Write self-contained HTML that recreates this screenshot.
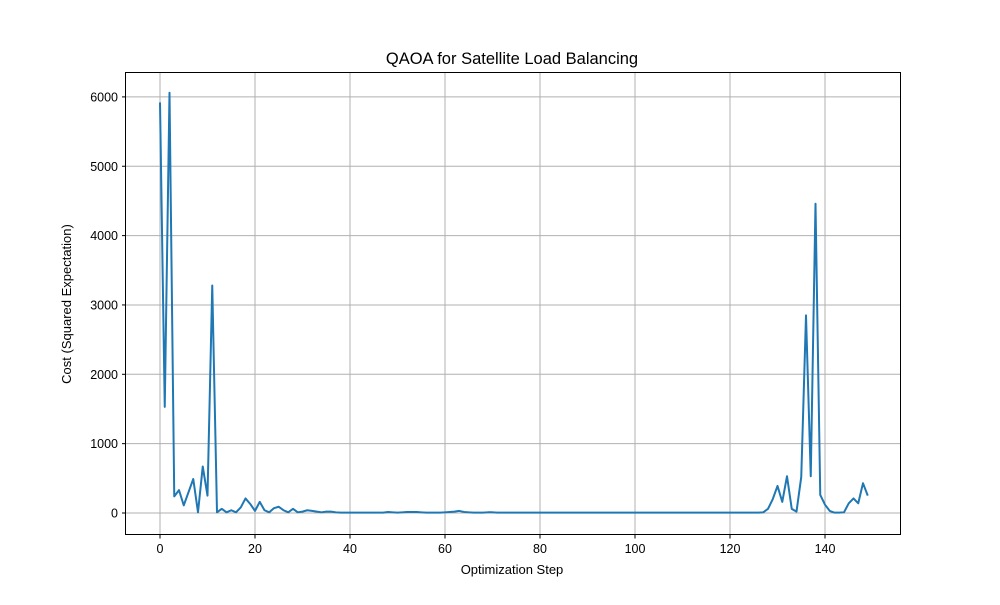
<!DOCTYPE html>
<html><head><meta charset="utf-8"><style>
body{margin:0;background:#fff;}
svg text{font-family:"Liberation Sans","DejaVu Sans",sans-serif;fill:#000;}
</style></head><body>
<svg id="chart" width="1000" height="600" xmlns="http://www.w3.org/2000/svg">
<rect width="1000" height="600" fill="#fff"/>
<g id="grid"></g>
<g id="series"></g>
<rect x="125.5" y="72.5" width="775" height="462" fill="none" stroke="#000" stroke-width="1"/>
<g id="ticks"></g>
<text x="512" y="64" font-size="16.5" text-anchor="middle">QAOA for Satellite Load Balancing</text>
<text x="512" y="574" font-size="13" text-anchor="middle">Optimization Step</text>
<text x="71" y="304" font-size="13" text-anchor="middle" transform="rotate(-90 71 304)">Cost (Squared Expectation)</text>
</svg>
<script>
const xTicks=[0,20,40,60,80,100,120,140];
const yTicks=[0,1000,2000,3000,4000,5000,6000];
const costValues=[5920,1530,6060,240,330,110,300,490,10,670,250,3280,10,60,10,40,10,80,210,130,30,160,40,10,70,90,40,10,60,10,20,40,30,20,10,20,20,10,5,5,5,5,5,5,5,5,5,5,15,10,5,10,15,15,15,10,5,5,5,5,10,15,20,30,15,10,5,5,5,10,10,5,5,5,5,5,5,5,5,5,5,5,5,5,5,5,5,5,5,5,5,5,5,5,5,5,5,5,5,5,5,5,5,5,5,5,5,5,5,5,5,5,5,5,5,5,5,5,5,5,5,5,5,5,5,5,5,10,60,200,390,160,530,60,20,520,2850,530,4460,260,120,30,5,5,10,140,210,140,430,250];
const steps=costValues.map((v,i)=>i);
const X=v=>160+v*4.75;
const Y=v=>513-v*0.06935;
const ns="http://www.w3.org/2000/svg";
const grid=document.getElementById('grid'),ticks=document.getElementById('ticks'),series=document.getElementById('series');
function mk(tag,attrs,parent){const e=document.createElementNS(ns,tag);for(const k in attrs)e.setAttribute(k,attrs[k]);parent.appendChild(e);return e;}
xTicks.forEach(t=>{
  const g=mk('line',{x1:X(t),x2:X(t),y1:72,y2:535,stroke:'#b0b0b0','stroke-width':1},grid);
  
  
  const tk=mk('line',{x1:X(t),x2:X(t),y1:535,y2:538.5,stroke:'#000'},ticks);
  
  
  const tx=mk('text',{x:X(t),y:553,'font-size':12.5,'text-anchor':'middle'},ticks);
  tx.textContent=t;
  
  
});
yTicks.forEach(t=>{
  const g=mk('line',{x1:126,x2:900,y1:Y(t),y2:Y(t),stroke:'#b0b0b0','stroke-width':1},grid);
  
  
  const tk=mk('line',{x1:122,x2:126,y1:Y(t),y2:Y(t),stroke:'#000'},ticks);
  
  
  const tx=mk('text',{x:118,y:Y(t)+4.5,'font-size':12.5,'text-anchor':'end'},ticks);
  tx.textContent=t;
  
  
});
const pts=steps.map((s,i)=>X(s).toFixed(2)+','+Y(costValues[i]).toFixed(2)).join(' ');
const line=mk('polyline',{points:pts,fill:'none',stroke:'#1f77b4','stroke-width':2,'stroke-linejoin':'round'},series);


</script>
</body></html>
